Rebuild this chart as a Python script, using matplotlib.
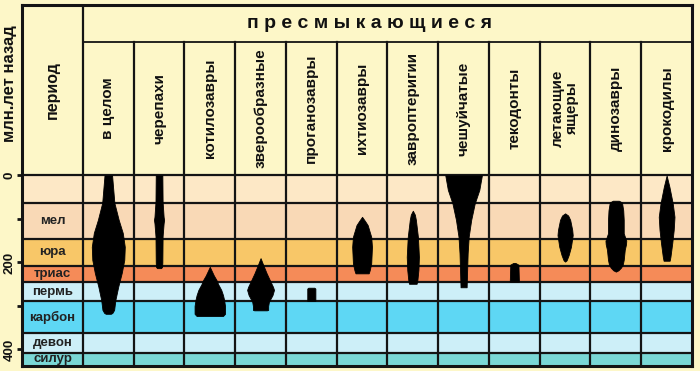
import matplotlib
matplotlib.use("Agg")
import matplotlib.pyplot as plt
import numpy as np

plt.rcParams['font.family'] = ['Liberation Sans', 'DejaVu Sans']

# ---------------- data ----------------
group_title = "пресмыкающиеся"
groups = ["в целом", "черепахи", "котилозавры", "зверообразные", "проганозавры",
          "ихтиозавры", "завроптеригии", "чешуйчатые", "текодонты",
          "летающие\nящеры", "динозавры", "крокодилы"]

period_names = ["", "мел", "юра", "триас", "пермь", "карбон", "девон", "силур"]
period_bounds = [0, 64, 146, 208, 246, 288, 363, 408, 438]   # млн лет назад
period_colors = ["#fde8c6", "#f9d9b6", "#f8c768", "#f58b58",
                 "#cdeff8", "#5ed7f4", "#cdeff8", "#7ad8d6"]

y_ticks = [0, 100, 200, 300, 400]
y_tick_labels = ["0", "", "200", "", "400"]

# time (Ma) and relative diversity width (fraction of column width) for each group
ma_0 = [0, 63, 102, 132, 164, 194, 224, 256, 286, 309, 316, 318]
w_0 = [0.15, 0.24, 0.41, 0.57, 0.65, 0.63, 0.53, 0.39, 0.28, 0.23, 0.16, 0.10]
ma_1 = [0, 60, 95, 102, 110, 140, 200, 210, 213]
w_1 = [0.13, 0.14, 0.18, 0.20, 0.18, 0.14, 0.13, 0.12, 0.08]
ma_2 = [210, 220, 230, 240, 250, 263, 275, 285, 300, 318, 323]
w_2 = [0.0, 0.08, 0.16, 0.26, 0.33, 0.45, 0.52, 0.56, 0.60, 0.60, 0.52]
ma_3 = [190, 205, 225, 245, 256, 263, 275, 290, 300, 309, 310]
w_3 = [0.0, 0.10, 0.24, 0.40, 0.49, 0.53, 0.47, 0.33, 0.30, 0.30, 0.25]
ma_4 = [258, 260, 288]
w_4 = [0.12, 0.16, 0.16]
ma_5 = [95, 105, 114, 141, 164, 202, 218, 225]
w_5 = [0.0, 0.12, 0.22, 0.36, 0.39, 0.36, 0.30, 0.26]
ma_6 = [81, 90, 102, 141, 187, 217, 240, 249]
w_6 = [0.0, 0.08, 0.12, 0.20, 0.24, 0.22, 0.18, 0.15]
ma_7 = [0, 33, 64, 102, 141, 179, 217, 257]
w_7 = [0.72, 0.62, 0.44, 0.30, 0.20, 0.16, 0.14, 0.12]
ma_8 = [201, 205, 244]
w_8 = [0.04, 0.16, 0.18]
ma_9 = [87, 92, 102, 125, 137, 164, 183, 195, 198]
w_9 = [0.0, 0.12, 0.20, 0.28, 0.30, 0.23, 0.14, 0.06, 0.0]
ma_10 = [58, 62, 80, 102, 133, 145, 150, 158, 171, 194, 205, 212, 218, 221]
w_10 = [0.12, 0.24, 0.29, 0.31, 0.31, 0.38, 0.41, 0.40, 0.35, 0.31, 0.27, 0.20, 0.10, 0.0]
ma_11 = [0, 26, 64, 95, 125, 156, 187, 196]
w_11 = [0.0, 0.11, 0.24, 0.31, 0.28, 0.22, 0.15, 0.12]

shapes_ma = [ma_0, ma_1, ma_2, ma_3, ma_4, ma_5, ma_6, ma_7, ma_8, ma_9, ma_10, ma_11]
shapes_w = [w_0, w_1, w_2, w_3, w_4, w_5, w_6, w_7, w_8, w_9, w_10, w_11]

# ---------------- figure ----------------
bg = "#fdf7c8"
line_c = "#141414"
text_c = "#111111"

fig = plt.figure(figsize=(7, 3.71), dpi=100)
fig.patch.set_facecolor(bg)
ax = fig.add_axes([22 / 700, 5 / 371, 670 / 700, 361 / 371])
ax.set_facecolor(bg)

ncol = len(groups)
x_left = -1.2
y_top = -392
y_head = -307
ax.set_xlim(x_left, ncol)
ax.set_ylim(period_bounds[-1], y_top)

# period bands
for i, name in enumerate(period_names):
    y0, y1 = period_bounds[i], period_bounds[i + 1]
    ax.axhspan(y0, y1, color=period_colors[i], lw=0, zorder=0)
    if name:
        ax.text(x_left / 2, (y0 + y1) / 2, name, ha="center", va="center",
                fontsize=9.5, fontweight="bold", color="#222222", zorder=3)

# horizontal band lines
for b in period_bounds[:-1]:
    ax.plot([x_left, ncol], [b, b], color=line_c, lw=1.6, zorder=2,
            solid_capstyle="butt")
ax.plot([0, ncol], [y_head, y_head], color=line_c, lw=1.3, zorder=2)

# vertical column lines
ax.plot([0, 0], [y_top, period_bounds[-1]], color=line_c, lw=1.6, zorder=2)
for k in range(1, ncol):
    ax.plot([k, k], [y_head, period_bounds[-1]], color=line_c, lw=1.6, zorder=2)

# shapes
for i in range(ncol):
    ma = np.array(shapes_ma[i], dtype=float)
    w = np.array(shapes_w[i], dtype=float)
    c = i + 0.5
    ax.fill_betweenx(ma, c - w / 2, c + w / 2, color="black", lw=0.6,
                     edgecolor="black", zorder=4)

# headers
ax.text(5.65, -349, " ".join(group_title), ha="center", va="center",
        fontsize=14, fontweight="bold", color=text_c)
for i, g in enumerate(groups):
    ax.text(i + 0.5, -154, g, rotation=90, ha="center", va="center",
            multialignment="center", fontsize=11, fontweight="bold",
            color=text_c, linespacing=1.0)
ax.text(x_left / 2, -196, "период", rotation=90, ha="center", va="center",
        fontsize=11.5, fontweight="bold", color=text_c)

# axis
for s in ax.spines.values():
    s.set_linewidth(2.2)
    s.set_color(line_c)
    s.set_zorder(5)
ax.set_xticks([])
ax.set_yticks(y_ticks)
ax.set_yticklabels(y_tick_labels)
ax.tick_params(axis="y", direction="out", length=3.5, width=2, pad=1,
               labelsize=9.5, labelrotation=90, colors=line_c)
for lab in ax.get_yticklabels():
    lab.set_fontweight("bold")
    lab.set_va("center")
    lab.set_color(text_c)

fig.text(10 / 700, 1 - 84 / 371, "млн.лет назад", rotation=90, ha="center",
         va="center", fontsize=12, fontweight="bold", color=text_c)

fig.savefig("out.png", dpi=100, facecolor=bg)
